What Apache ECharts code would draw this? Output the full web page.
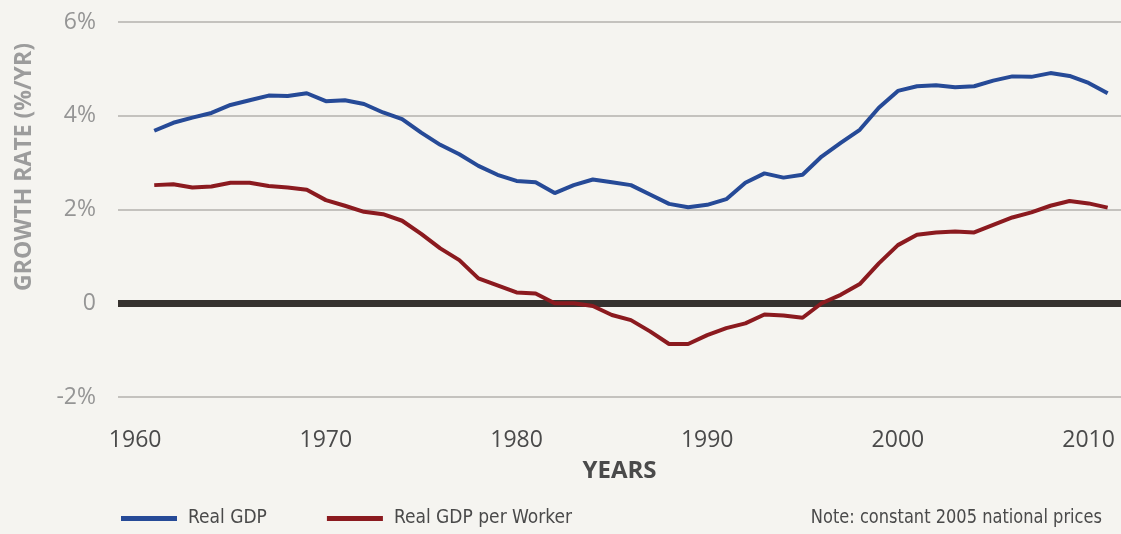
<!DOCTYPE html>
<html>
<head>
<meta charset="utf-8">
<script src="https://cdn.jsdelivr.net/npm/echarts@6/dist/echarts.min.js"></script>
<style>
  html, body { margin: 0; padding: 0; background: #f5f4f0; }
  #chart { width: 1121px; height: 534px; }
</style>
</head>
<body>
<div id="chart"></div>
<script>
// years 1961-2011
var years = [];
for (var y = 1961; y <= 2011; y++) years.push(y);

// growth rate, % per year
var realGdp = [3.68, 3.85, 3.96, 4.06, 4.23, 4.33, 4.43, 4.42, 4.48, 4.31,
    4.33, 4.25, 4.07, 3.93, 3.64, 3.38, 3.18, 2.93, 2.74, 2.61,
    2.58, 2.35, 2.52, 2.64, 2.58, 2.52, 2.32, 2.12, 2.05, 2.10,
    2.22, 2.57, 2.77, 2.68, 2.74, 3.13, 3.42, 3.70, 4.17, 4.53,
    4.63, 4.65, 4.61, 4.63, 4.75, 4.84, 4.83, 4.91, 4.85, 4.70, 4.48];
var gdpPerWorker = [2.52, 2.54, 2.47, 2.49, 2.57, 2.57, 2.50, 2.47, 2.42, 2.20,
    2.08, 1.95, 1.90, 1.76, 1.48, 1.17, 0.92, 0.53, 0.38, 0.23,
    0.21, 0.00, 0.00, -0.06, -0.25, -0.36, -0.60, -0.87, -0.87, -0.68,
    -0.53, -0.43, -0.24, -0.26, -0.31, 0.00, 0.18, 0.41, 0.85, 1.24,
    1.46, 1.51, 1.53, 1.51, 1.67, 1.83, 1.94, 2.08, 2.18, 2.13, 2.04];
var yearTicks = [1960, 1970, 1980, 1990, 2000, 2010];

var labelFont = "'Open Sans', sans-serif";
var narrowFont = "'DejaVu Sans Condensed', sans-serif";

function pairs(vals) {
    return years.map(function (yr, i) { return [yr, vals[i]]; });
}

var chart = echarts.init(document.getElementById('chart'));
var option = {
    backgroundColor: '#f5f4f0',
    animation: false,
    grid: { left: 118, right: 0, top: 22, bottom: 137 },
    xAxis: {
        type: 'value',
        min: 1959.1,
        max: 2011.7,
        name: 'YEARS',
        nameLocation: 'middle',
        nameGap: 62,
        nameTextStyle: { fontFamily: labelFont, fontWeight: 'bold', fontSize: 24, color: '#4a4a4a' },
        axisLine: { show: false },
        axisTick: { show: false },
        splitLine: { show: false },
        axisLabel: {
            customValues: yearTicks,
            margin: 32,
            fontFamily: labelFont,
            fontSize: 23,
            color: '#4a4a4a',
            formatter: function (v) { return String(v); }
        }
    },
    yAxis: {
        type: 'value',
        min: -2,
        max: 6,
        interval: 2,
        axisLine: { show: false },
        axisTick: { show: false },
        splitLine: { lineStyle: { color: '#b3b2ae', width: 1.5 } },
        axisLabel: {
            margin: 22,
            fontFamily: labelFont,
            fontSize: 23,
            color: '#959595',
            formatter: function (v) { return v === 0 ? '0' : v + '%'; }
        }
    },
    legend: {
        left: 121,
        top: 509,
        padding: 0,
        itemWidth: 56,
        itemHeight: 5,
        itemGap: 60,
        icon: 'rect',
        textStyle: { fontFamily: narrowFont, fontSize: 19, color: '#4a4a4a', padding: [0, 0, 0, 6] },
        data: ['Real GDP', 'Real GDP per Worker']
    },
    graphic: [
        {
            type: 'text',
            x: 24, y: 167,
            rotation: Math.PI / 2,
            style: {
                text: 'GROWTH RATE (%/YR)',
                fontFamily: labelFont, fontWeight: 'bold', fontSize: 23,
                fill: '#9c9c9c', align: 'center', verticalAlign: 'middle'
            }
        },
        {
            type: 'text',
            x: 1102, y: 518,
            scaleX: 0.95,
            style: {
                text: 'Note: constant 2005 national prices',
                fontFamily: narrowFont, fontSize: 19, fill: '#4a4a4a',
                align: 'right', verticalAlign: 'middle'
            }
        }
    ],
    series: [
        {
            name: 'Real GDP',
            type: 'line',
            data: pairs(realGdp),
            showSymbol: false,
            color: '#264a97',
            lineStyle: { width: 4, color: '#264a97' },
            markLine: {
                silent: true,
                symbol: 'none',
                label: { show: false },
                lineStyle: { color: '#36322f', width: 7, type: 'solid' },
                data: [{ yAxis: 0 }]
            }
        },
        {
            name: 'Real GDP per Worker',
            type: 'line',
            data: pairs(gdpPerWorker),
            showSymbol: false,
            color: '#8b1a1f',
            z: 5,
            lineStyle: { width: 4, color: '#8b1a1f' }
        }
    ]
};
chart.setOption(option);
</script>
</body>
</html>
